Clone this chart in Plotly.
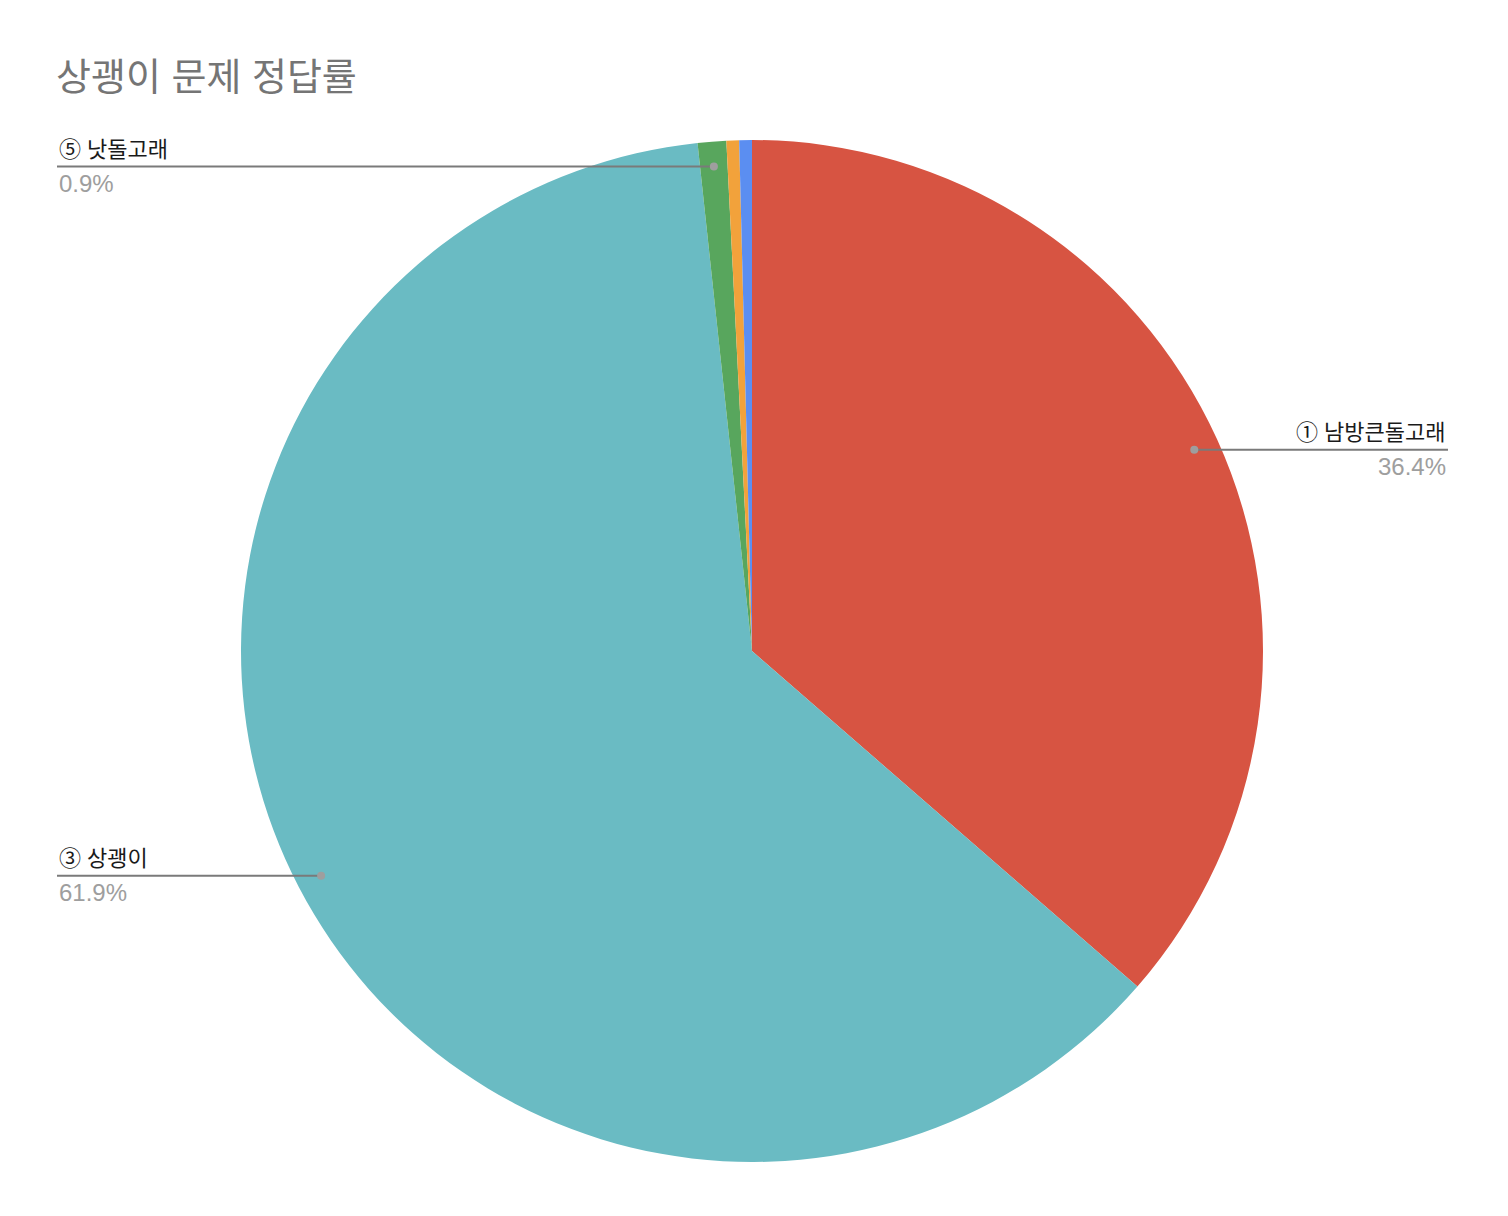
import math
import plotly.graph_objects as go

# ---- data ----
labels = ["① 남방큰돌고래", "③ 상괭이", "⑤ 낫돌고래", "④ 참돌고래", "② 큰돌고래"]
values = [36.4, 61.9, 0.9, 0.4, 0.4]
colors = ["#d75442", "#6abbc3", "#58a65d", "#f2a23b", "#5b8ef1"]
shown = [True, True, True, False, False]   # which slices get an outside label
title_text = "상괭이 문제 정답률"

# ---- layout constants ----
W, H = 1508, 1216
OFF = 8  # page body margin
CX, CY, R = 752, 651, 511
LEFT_X, RIGHT_X = 57, 1448
FONT = "Liberation Sans, Arial, Noto Sans CJK KR, sans-serif"


def px(x):
    return (x - OFF) / W


def py(y):
    return 1 - (y - OFF) / H


fig = go.Figure(go.Pie(
    labels=labels,
    values=values,
    marker=dict(colors=colors, line=dict(width=0)),
    sort=False,
    direction="clockwise",
    rotation=0,
    textinfo="none",
    hoverinfo="label+percent",
    showlegend=False,
    domain=dict(x=[px(CX - R), px(CX + R)], y=[py(CY + R), py(CY - R)]),
))

shapes = []
annotations = []
total = sum(values)
cum = 0.0
for lab, v, show in zip(labels, values, shown):
    mid = (cum + v / 2) / total
    cum += v
    if not show:
        continue
    ang = 2 * math.pi * mid
    dx = CX + 0.951 * R * math.sin(ang)
    dy = CY - 0.951 * R * math.cos(ang)
    pct = f"{100 * v / total:.1f}%"
    if math.sin(ang) >= 0:
        x0, x1, tx, anchor = dx, RIGHT_X, RIGHT_X, "right"
    else:
        x0, x1, tx, anchor = LEFT_X, dx, LEFT_X, "left"
    shapes.append(dict(type="line", xref="paper", yref="paper",
                       x0=px(x0), x1=px(x1), y0=py(dy), y1=py(dy),
                       line=dict(color="#7a7a7a", width=2)))
    shapes.append(dict(type="circle", xref="paper", yref="paper",
                       x0=px(dx - 4), x1=px(dx + 4), y0=py(dy + 4), y1=py(dy - 4),
                       fillcolor="#9e9e9e", line=dict(width=0)))
    annotations.append(dict(x=px(tx), y=py(dy - 3), xref="paper", yref="paper",
                            text=lab, showarrow=False, xanchor=anchor, yanchor="bottom",
                            font=dict(family=FONT, size=22, color="#1a1a1a")))
    annotations.append(dict(x=px(tx), y=py(dy + 1), xref="paper", yref="paper",
                            text=pct, showarrow=False, xanchor=anchor, yanchor="top",
                            font=dict(family=FONT, size=24, color="#9e9e9e")))

annotations.append(dict(x=px(LEFT_X - 3), y=py(54), xref="paper", yref="paper",
                        text=title_text, showarrow=False, xanchor="left", yanchor="top",
                        font=dict(family=FONT, size=38, color="#757575")))

fig.update_layout(
    width=W, height=H,
    margin=dict(l=0, r=0, t=0, b=0),
    paper_bgcolor="white", plot_bgcolor="white",
    shapes=shapes,
    annotations=annotations,
)

fig.write_html("out.html")
